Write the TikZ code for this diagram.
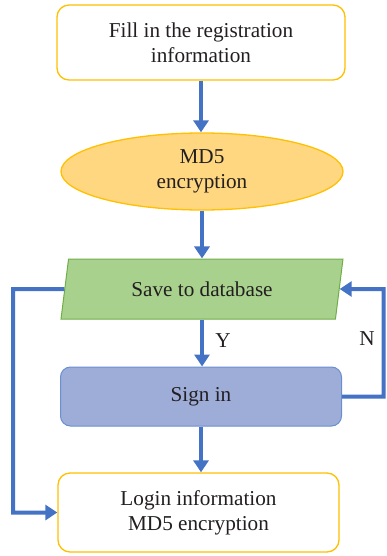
\documentclass[tikz,border=0pt]{standalone}
\usepackage{fontspec}
\setmainfont{Liberation Serif}
\usetikzlibrary{shapes.geometric,arrows.meta}

\definecolor{goldline}{HTML}{FFC000}
\definecolor{ellfill}{HTML}{FFD780}
\definecolor{greenfill}{HTML}{A9D18E}
\definecolor{greenline}{HTML}{70AD47}
\definecolor{bluefill}{HTML}{9DADD8}
\definecolor{blueline}{HTML}{6A8FD0}
\definecolor{flow}{HTML}{4472C4}
\definecolor{ink}{HTML}{231F20}

\tikzset{
  lbl/.style={font=\fontsize{21.2}{25}\selectfont, text=ink, align=center},
  termbox/.style={lbl, draw=goldline, line width=1.3pt, fill=white,
    rounded corners=12pt, inner sep=0pt},
  ellbox/.style={lbl, ellipse, draw=goldline, line width=1.3pt, fill=ellfill,
    inner sep=0pt, minimum width=282pt, minimum height=77pt},
  iobox/.style={lbl, trapezium, trapezium left angle=75, trapezium right angle=105,
    trapezium stretches=true, draw=greenline, line width=1pt, fill=greenfill,
    inner sep=0pt, minimum width=282pt, minimum height=60pt},
  procbox/.style={lbl, draw=blueline, line width=1pt, fill=bluefill,
    rounded corners=10pt, inner sep=0pt},
  arr/.style={draw=flow, line width=4pt,
    -{Triangle[width=15pt,length=12pt]}},
}

\begin{document}
\begin{tikzpicture}[x=1pt,y=-1pt]
  \useasboundingbox (0,0) rectangle (386,556);

  \node[termbox, minimum width=288pt, minimum height=75pt] (fill) at (201,42.5)
    {Fill in the registration\\information};
  \node[ellbox] (md5) at (202,171.5) {MD5\\encryption};
  \node[iobox] (save) at (202,289) {Save to database};
  \node[procbox, minimum width=281pt, minimum height=59pt] (sign) at (201,396.5)
    {Sign in};
  \node[termbox, minimum width=281pt, minimum height=79pt] (login) at (198.5,512.5)
    {Login information\\MD5 encryption};

  \node[lbl] (ylab) at (223,341) {Y};
  \node[lbl] (nlab) at (367,339) {N};

  \coordinate (leftcorner) at (13,289);
  \coordinate (rightcorner) at (383.5,289);

  \draw[arr] (fill.south) -- (fill.south |- md5.north);
  \draw[arr] (md5.south) -- (md5.south |- save.north);
  \draw[arr] (save.south) -- (save.south |- sign.north);
  \draw[arr] (sign.south) -- (sign.south |- login.north);
  \draw[arr] (save.west) -- (leftcorner) |- (login.west);
  \draw[arr] (sign.east) -| (rightcorner) -- (save.east);
\end{tikzpicture}
\end{document}
